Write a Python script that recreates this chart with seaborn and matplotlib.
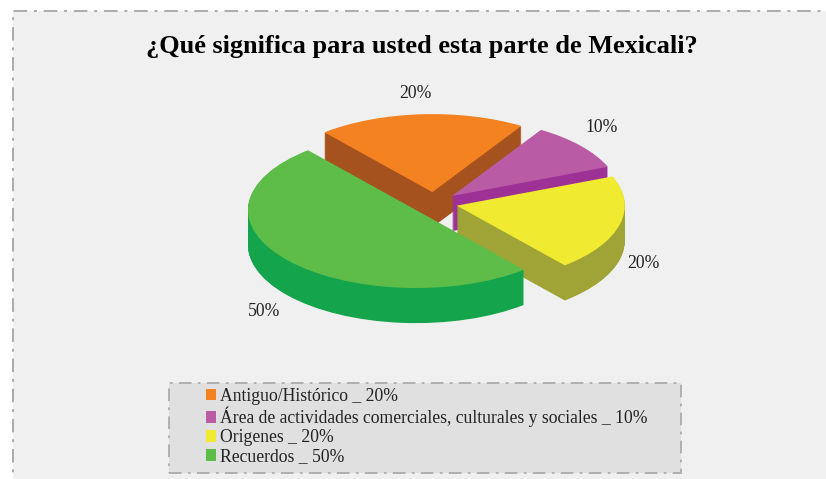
import matplotlib
matplotlib.use("Agg")
import matplotlib.pyplot as plt
from matplotlib.patches import Rectangle
import seaborn as sns

categories = ["Antiguo/Histórico", "Área de actividades comerciales, culturales y sociales", "Origenes", "Recuerdos"]
values = [20, 10, 20, 50]
top_colors = ["#F58220", "#B95CA5", "#F0EA30", "#5EBD48"]
side_colors = ["#A5521F", "#9E3196", "#A0A436", "#14A44B"]
title = "¿Qué significa para usted esta parte de Mexicali?"

W, H = 826, 479
# pie centre and radii in pixels (squashed circle)
cx, cy = 434, 203
rx, ry = 168, 78
depth = 0.45
levels = 45

sns.set_theme(style="white")
plt.rcParams["font.family"] = ["Liberation Serif", "DejaVu Serif"]

fig = plt.figure(figsize=(W / 100, H / 100), dpi=100, facecolor="white")


def box(x0, y0, x1, y1, face, lw):
    fig.add_artist(Rectangle((x0 / W, 1 - y1 / H), (x1 - x0) / W, (y1 - y0) / H,
                             transform=fig.transFigure, facecolor=face, edgecolor="#ABABAB",
                             linewidth=lw, linestyle=(0, (7, 3.5, 1.5, 3.5)), zorder=-2))


box(13, 11, W + 20, H + 20, "#F0F0F0", 1.4)
box(169, 383, 681, 473, "#E0E0E0", 1.3)

ax = fig.add_axes([0, 0, 1, 1])
ax.patch.set_alpha(0)


def draw_pie(colors, offset, level):
    wedges, _ = ax.pie(values, colors=colors, explode=[0.14] * 4, startangle=130,
                       counterclock=False, center=(0, offset), radius=1,
                       wedgeprops={"linewidth": 0.3, "edgecolor": "none"})
    for i, w in enumerate(wedges):
        w.set_zorder((i + 1) * 100 + level)
    return wedges


for k in range(levels):
    draw_pie(side_colors, -depth * (levels - k) / levels, k)
top = draw_pie(top_colors, 0, levels)

ax.set_aspect("auto")
ax.set_xlim(-cx / rx, (W - cx) / rx)
ax.set_ylim((cy - H) / ry, cy / ry)
ax.axis("off")

fig.text(422 / W, 1 - 46 / H, title, ha="center", va="center", fontsize=18.9,
         fontweight="bold", color="black")

pct_labels = [f"{v}%" for v in values]
label_xy = [(415, 93), (602, 128), (643, 264), (264, 311)]
for s, (x, y) in zip(pct_labels, label_xy):
    fig.text(x / W, 1 - y / H, s, ha="center", va="center", fontsize=12.7, color="#222222")

legend_labels = [f"{c} _ {v}%" for c, v in zip(categories, values)]
fig.legend(top, legend_labels, loc="upper left", bbox_to_anchor=(202 / W, 1 - 384 / H),
           frameon=False, fontsize=12.7, labelcolor="#222222", handlelength=0.62, handleheight=0.62,
           handletextpad=0.22, labelspacing=0.12, borderpad=0.2, borderaxespad=0)

fig.savefig("out.png", dpi=100)
